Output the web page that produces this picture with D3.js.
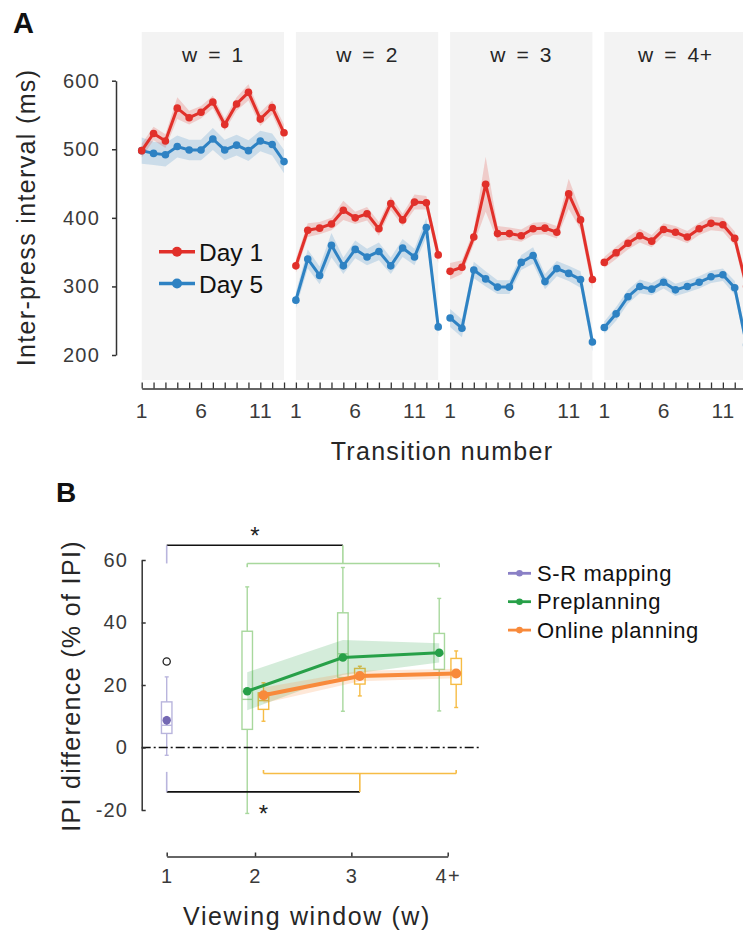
<!DOCTYPE html>
<html><head><meta charset="utf-8">
<script src="https://cdn.jsdelivr.net/npm/d3@7"></script>
<style>
html,body{margin:0;padding:0;background:#fff;}
svg{display:block;font-family:"Liberation Sans",Arial,sans-serif;}
</style></head>
<body>
<svg id="chart" width="743" height="931"></svg>
<script>
// ---------------- Panel A data ----------------
const windowTitles = ["w = 1", "w = 2", "w = 3", "w = 4+"];
const transitionTickLabels = [1, 6, 11];
const nTransitions = 13;
const day1Mean = [
  [498, 523, 512, 560, 546, 554, 569, 536, 566, 583, 544, 561, 524],
  [330, 382, 385, 391, 411, 400, 406, 384, 421, 397, 423, 422, 346],
  [322, 328, 372, 449, 377, 377, 374, 384, 385, 379, 435, 397, 310],
  [335, 349, 363, 374, 366, 383, 379, 372, 384, 392, 390, 370, 300]
];
const day1SE = [
  [10, 10, 10, 16, 10, 9, 9, 9, 10, 12, 10, 10, 12],
  [10, 10, 9, 9, 14, 9, 10, 10, 10, 9, 11, 10, 12],
  [12, 10, 10, 40, 11, 9, 9, 9, 9, 9, 22, 14, 14],
  [8, 9, 9, 10, 9, 9, 9, 9, 9, 10, 10, 10, 12]
];
const day5Mean = [
  [498, 494, 492, 504, 499, 499, 515, 499, 506, 498, 512, 507, 482],
  [280, 340, 316, 360, 330, 354, 343, 351, 330, 356, 343, 386, 241],
  [254, 239, 324, 311, 299, 299, 335, 345, 307, 326, 319, 310, 219],
  [240, 260, 285, 300, 296, 306, 295, 300, 306, 314, 317, 298, 215]
];
const day5SE = [
  [19, 17, 17, 16, 15, 15, 16, 15, 15, 15, 15, 16, 17],
  [12, 14, 13, 18, 12, 13, 12, 13, 12, 13, 12, 14, 14],
  [13, 13, 12, 11, 10, 10, 11, 12, 11, 11, 11, 12, 14],
  [9, 10, 10, 10, 9, 9, 9, 9, 9, 9, 9, 10, 12]
];
const ipiTicks = [200, 300, 400, 500, 600];
const dayLabels = ["Day 1", "Day 5"];

// ---------------- Panel B data ----------------
const viewingWindowLabels = ["1", "2", "3", "4+"];
const groupNames = ["S-R mapping", "Preplanning", "Online planning"];
const srWindows = [1];
const srMean = [8.7];
const srErr = [1.4];
const srBox = [{lo: -2.5, q1: 4.5, med: 7.1, q3: 14.6, hi: 22.6}];
const srOutliers = [27.5];
const planWindows = [2, 3, 4];
const preMean = [18.0, 28.8, 30.3];
const preBand = [6.1, 5.6, 3.1];
const preBox = [
  {lo: -21.1, q1: 5.8, med: 15.4, q3: 37.2, hi: 51.4},
  {lo: 11.6, q1: 22.4, med: 30.0, q3: 43.1, hi: 57.6},
  {lo: 11.7, q1: 25.0, med: 30.0, q3: 36.5, hi: 47.7}
];
const onlineMean = [16.7, 22.9, 23.7];
const onlineBand = [2.5, 1.7, 1.5];
const onlineBox = [
  {lo: 8.4, q1: 12.2, med: 15.0, q3: 17.5, hi: 20.7},
  {lo: 16.5, q1: 20.3, med: 23.0, q3: 25.3, hi: 26.0},
  {lo: 12.8, q1: 20.2, med: 24.0, q3: 28.5, hi: 30.9}
];
const pctTicks = [-20, 0, 20, 40, 60];

// ---------------- styles ----------------
const RED = "#e1302a", BLUE = "#2e82c3";
const PURPLE = "#7468b3", PURPLE_L = "#b9b5dd";
const GREEN = "#27a048", GREEN_L = "#a8d89d";
const ORANGE = "#f88a3b", ORANGE_L = "#f6bc45";
const AXIS = "#333";
const TXT = "#262626";

const svg = d3.select("#chart");

// ================= PANEL A =================
const gA = svg.append("g");
const xA = d3.scaleLinear().domain([1, 52]).range([141.7, 746.6]);
const yA = d3.scaleLinear().domain([200, 600]).range([355, 80.7]);
const pos = (k, i) => k * nTransitions + i + 1;

// panel backgrounds + titles
windowTitles.forEach((t, k) => {
  const x0 = xA(pos(k, 0)), x1 = xA(pos(k, nTransitions - 1));
  gA.append("rect").attr("x", x0).attr("y", 32).attr("width", x1 - x0).attr("height", 348)
    .attr("fill", "#f3f3f3");
  gA.append("text").attr("x", (x0 + x1) / 2).attr("y", 61.5).attr("text-anchor", "middle")
    .attr("font-size", 21).attr("letter-spacing", 0.6).attr("word-spacing", 4).attr("fill", TXT).text(t);
});

function drawSeries(means, ses, color) {
  means.forEach((arr, k) => {
    const pts = arr.map((v, i) => ({x: pos(k, i), v, se: ses[k][i]}));
    gA.append("path").datum(pts)
      .attr("d", d3.area().x(d => xA(d.x)).y0(d => yA(d.v - d.se)).y1(d => yA(d.v + d.se)))
      .attr("fill", color).attr("fill-opacity", 0.2);
    gA.append("path").datum(pts)
      .attr("d", d3.line().x(d => xA(d.x)).y(d => yA(d.v)))
      .attr("fill", "none").attr("stroke", color).attr("stroke-width", 3);
    gA.selectAll(null).data(pts).enter().append("circle")
      .attr("cx", d => xA(d.x)).attr("cy", d => yA(d.v)).attr("r", 3.8).attr("fill", color);
  });
}
drawSeries(day5Mean, day5SE, BLUE);
drawSeries(day1Mean, day1SE, RED);

// y axis A
const yAxA = gA.append("g").attr("transform", "translate(116,0)")
  .call(d3.axisLeft(yA).tickValues(ipiTicks).tickSizeInner(4).tickSizeOuter(0).tickPadding(12)
    .tickFormat(d => String(d)));
yAxA.select(".domain").attr("stroke", AXIS).attr("stroke-width", 1.5);
yAxA.selectAll(".tick line").attr("stroke", AXIS).attr("stroke-width", 1.5);
yAxA.selectAll(".tick text").attr("font-size", 20).attr("letter-spacing", 1.2).attr("fill", "#3a3a3a")
  .attr("font-family", "Liberation Sans, Arial, sans-serif");

// x axis A
const allPos = d3.range(1, windowTitles.length * nTransitions + 1);
const xAxA = gA.append("g").attr("transform", "translate(0,388.5)")
  .call(d3.axisBottom(xA).tickValues(allPos).tickSizeInner(-6).tickSizeOuter(0).tickPadding(14.5)
    .tickFormat(p => { const li = ((p - 1) % nTransitions) + 1; return transitionTickLabels.includes(li) ? String(li) : ""; }));
xAxA.select(".domain").attr("stroke", AXIS).attr("stroke-width", 1.5);
xAxA.selectAll(".tick line").attr("stroke", AXIS).attr("stroke-width", 1.3);
xAxA.selectAll(".tick text").attr("font-size", 21).attr("letter-spacing", 1).attr("fill", "#3a3a3a")
  .attr("font-family", "Liberation Sans, Arial, sans-serif");

// axis titles A
gA.append("text").attr("transform", "translate(35,217.5) rotate(-90)").attr("text-anchor", "middle")
  .attr("font-size", 25).attr("letter-spacing", 1.35).attr("fill", TXT).text("Inter-press interval (ms)");
gA.append("text").attr("x", 442).attr("y", 460).attr("text-anchor", "middle")
  .attr("font-size", 25).attr("letter-spacing", 1.3).attr("fill", TXT).text("Transition number");
gA.append("text").attr("x", 13).attr("y", 33).attr("font-size", 29).attr("font-weight", "bold").attr("fill", "#111").text("A");

// legend A
[RED, BLUE].forEach((c, i) => {
  const y = 251.7 + i * 31.8;
  gA.append("line").attr("x1", 159).attr("x2", 195).attr("y1", y).attr("y2", y).attr("stroke", c).attr("stroke-width", 3.5);
  gA.append("circle").attr("cx", 177).attr("cy", y).attr("r", 5).attr("fill", c);
  gA.append("text").attr("x", 199).attr("y", y + 9.3).attr("font-size", 24.5).attr("fill", "#111").text(dayLabels[i]);
});

// ================= PANEL B =================
const gB = svg.append("g");
const xB = d3.scaleLinear().domain([1, 2, 4]).range([166.7, 255, 447.7]);
const yB = d3.scaleLinear().domain([-20, 60]).range([810, 560]);
const off = 0.088;
const boxW = 10.5, capW = 4;

function drawBox(b, xv, color) {
  const cx = xB(xv);
  const g = gB.append("g").attr("stroke", color).attr("stroke-width", 1.4).attr("fill", "none");
  g.append("line").attr("x1", cx).attr("x2", cx).attr("y1", yB(b.hi)).attr("y2", yB(b.q3));
  g.append("line").attr("x1", cx).attr("x2", cx).attr("y1", yB(b.q1)).attr("y2", yB(b.lo));
  g.append("line").attr("x1", cx - capW / 2).attr("x2", cx + capW / 2).attr("y1", yB(b.hi)).attr("y2", yB(b.hi));
  g.append("line").attr("x1", cx - capW / 2).attr("x2", cx + capW / 2).attr("y1", yB(b.lo)).attr("y2", yB(b.lo));
  g.append("rect").attr("x", cx - boxW / 2).attr("y", yB(b.q3)).attr("width", boxW).attr("height", yB(b.q1) - yB(b.q3));
  g.append("line").attr("x1", cx - boxW / 2).attr("x2", cx + boxW / 2).attr("y1", yB(b.med)).attr("y2", yB(b.med));
}
srBox.forEach((b, i) => drawBox(b, srWindows[i], PURPLE_L));
preBox.forEach((b, i) => drawBox(b, planWindows[i] - off, GREEN_L));
onlineBox.forEach((b, i) => drawBox(b, planWindows[i] + off, ORANGE_L));
srOutliers.forEach(v => gB.append("circle").attr("cx", xB(srWindows[0])).attr("cy", yB(v)).attr("r", 3.6)
  .attr("fill", "none").attr("stroke", "#222").attr("stroke-width", 1.3));

// zero line
gB.append("line").attr("x1", 141.7).attr("x2", 480).attr("y1", yB(0)).attr("y2", yB(0))
  .attr("stroke", "#111").attr("stroke-width", 1.5).attr("stroke-dasharray", "9,3,2,3");

function drawGroup(means, band, dx, color, lw, r) {
  const pts = means.map((v, i) => ({x: planWindows[i] + dx, v, b: band[i]}));
  gB.append("path").datum(pts)
    .attr("d", d3.area().x(d => xB(d.x)).y0(d => yB(d.v - d.b)).y1(d => yB(d.v + d.b)))
    .attr("fill", color).attr("fill-opacity", 0.2);
  gB.append("path").datum(pts).attr("d", d3.line().x(d => xB(d.x)).y(d => yB(d.v)))
    .attr("fill", "none").attr("stroke", color).attr("stroke-width", lw);
  gB.selectAll(null).data(pts).enter().append("circle")
    .attr("cx", d => xB(d.x)).attr("cy", d => yB(d.v)).attr("r", r).attr("fill", color);
}
drawGroup(preMean, preBand, -off, GREEN, 3, 4.3);
drawGroup(onlineMean, onlineBand, off, ORANGE, 4, 5);

// S-R mean
srMean.forEach((v, i) => {
  const cx = xB(srWindows[i]);
  gB.append("line").attr("x1", cx).attr("x2", cx).attr("y1", yB(v - srErr[i])).attr("y2", yB(v + srErr[i]))
    .attr("stroke", PURPLE).attr("stroke-width", 2);
  gB.append("circle").attr("cx", cx).attr("cy", yB(v)).attr("r", 4.2).attr("fill", PURPLE);
});

// significance brackets
function seg(x1, y1, x2, y2, c, w) {
  gB.append("line").attr("x1", xB(x1)).attr("x2", xB(x2)).attr("y1", yB(y1)).attr("y2", yB(y2))
    .attr("stroke", c).attr("stroke-width", w);
}
// top
seg(1, 64.7, 3 - off, 64.7, "#111", 1.6);
seg(1, 64.7, 1, 58.9, PURPLE_L, 1.6);
seg(3 - off, 64.7, 3 - off, 58.9, GREEN_L, 1.6);
seg(2 - off, 58.9, 4 - off, 58.9, GREEN_L, 1.6);
seg(2 - off, 58.9, 2 - off, 57.7, GREEN_L, 1.6);
seg(4 - off, 58.9, 4 - off, 57.7, GREEN_L, 1.6);
// bottom
seg(1, -14.2, 3 + off, -14.2, "#111", 1.6);
seg(1, -14.2, 1, -7.8, PURPLE_L, 1.6);
seg(3 + off, -14.2, 3 + off, -8.3, ORANGE_L, 1.6);
seg(2 + off, -8.3, 4 + off, -8.3, ORANGE_L, 1.6);
seg(2 + off, -8.3, 2 + off, -7.2, ORANGE_L, 1.6);
seg(4 + off, -8.3, 4 + off, -7.2, ORANGE_L, 1.6);
gB.append("text").attr("x", xB(2)).attr("y", 544).attr("text-anchor", "middle").attr("font-size", 24).attr("fill", "#222").text("*");
gB.append("text").attr("x", xB(2 + off)).attr("y", 822).attr("text-anchor", "middle").attr("font-size", 24).attr("fill", "#222").text("*");

// y axis B
const yAxB = gB.append("g").attr("transform", "translate(141.7,0)")
  .call(d3.axisLeft(yB).tickValues(pctTicks).tickSizeInner(-4).tickSizeOuter(0).tickPadding(13.5)
    .tickFormat(d => String(d)));
yAxB.select(".domain").attr("stroke", AXIS).attr("stroke-width", 1.5);
yAxB.selectAll(".tick line").attr("stroke", AXIS).attr("stroke-width", 1.5);
yAxB.selectAll(".tick text").attr("font-size", 20).attr("letter-spacing", 1.2).attr("fill", "#3a3a3a")
  .attr("font-family", "Liberation Sans, Arial, sans-serif");

// x axis B
const xAxB = gB.append("g").attr("transform", "translate(0,856.5)")
  .call(d3.axisBottom(xB).tickValues([1, 2, 3, 4]).tickSizeInner(-4).tickSizeOuter(0).tickPadding(12)
    .tickFormat((d, i) => viewingWindowLabels[i]));
xAxB.select(".domain").attr("stroke", AXIS).attr("stroke-width", 1.5);
xAxB.selectAll(".tick line").attr("stroke", AXIS).attr("stroke-width", 1.5);
xAxB.selectAll(".tick text").attr("font-size", 20).attr("letter-spacing", 1.2).attr("fill", "#3a3a3a")
  .attr("font-family", "Liberation Sans, Arial, sans-serif");

gB.append("text").attr("transform", "translate(80,686) rotate(-90)").attr("text-anchor", "middle")
  .attr("font-size", 25).attr("letter-spacing", 1.35).attr("fill", TXT).text("IPI difference (% of IPI)");
gB.append("text").attr("x", 307).attr("y", 925).attr("text-anchor", "middle")
  .attr("font-size", 25).attr("letter-spacing", 1.6).attr("fill", TXT).text("Viewing window (w)");
gB.append("text").attr("x", 56).attr("y", 502).attr("font-size", 28).attr("font-weight", "bold").attr("fill", "#111").text("B");

// legend B
[PURPLE, GREEN, ORANGE].forEach((c, i) => {
  const y = 573.3 + i * 28.4;
  const lc = i === 0 ? "#8a80c6" : c;
  gB.append("line").attr("x1", 508).attr("x2", 531).attr("y1", y).attr("y2", y).attr("stroke", lc).attr("stroke-width", 2.8);
  gB.append("circle").attr("cx", 519.5).attr("cy", y).attr("r", 3.3).attr("fill", lc);
  gB.append("text").attr("x", 537).attr("y", y + 7.5).attr("font-size", 22).attr("letter-spacing", 0.6).attr("fill", "#111").text(groupNames[i]);
});
</script>
</body></html>
